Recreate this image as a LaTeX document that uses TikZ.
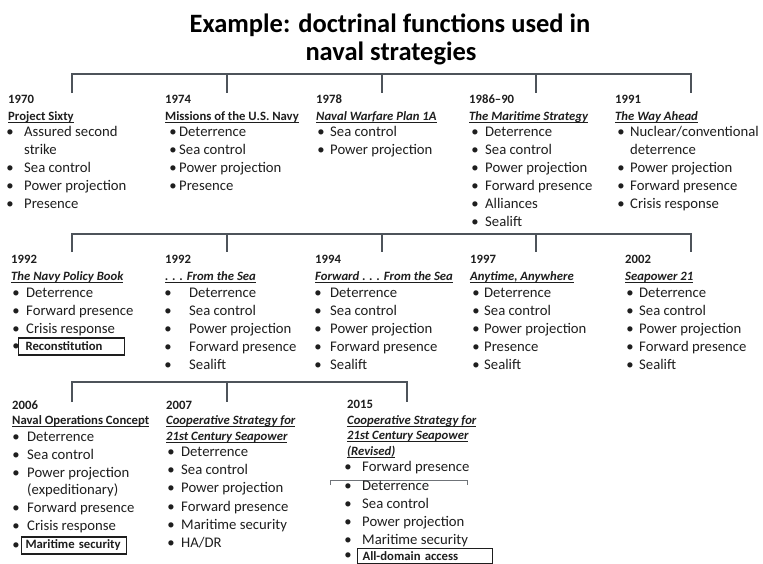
\documentclass[tikz,border=0pt]{standalone}
\usepackage{fontspec}
\setmainfont{Carlito}
\definecolor{ink}{HTML}{1E1E1E}
\definecolor{rulec}{HTML}{4D535A}
\definecolor{thin}{HTML}{6F7378}
\newcommand\ulx[1]{\setbox0\hbox{#1}\rlap{\rule[-2.6pt]{\wd0}{1.1pt}}\box0}
\newcommand\bi[5]{\node[bul] (#1b) at (#2,#4) {•}; \node[itm] (#1) at (#3,#4) {#5};}
\tikzset{
  titlef/.style={anchor=base, inner sep=0, font=\fontsize{26.5}{29}\selectfont\bfseries, text=black},
  yr/.style={anchor=base west, inner sep=0, font=\fontsize{12.7}{15}\selectfont\bfseries, text=ink},
  hd/.style={anchor=base west, inner sep=0, font=\fontsize{12.7}{15}\selectfont\bfseries, text=ink},
  hdi/.style={anchor=base west, inner sep=0, font=\fontsize{12.7}{15}\selectfont\bfseries\itshape, text=ink},
  bul/.style={anchor=base, inner sep=0, font=\fontsize{14.7}{18}\selectfont, text=ink},
  itm/.style={anchor=base west, inner sep=0, font=\fontsize{14.7}{18}\selectfont, text=ink},
  brk/.style={draw=rulec, line width=2pt},
  boxed/.style={draw=ink, line width=1.1pt, anchor=west, inner ysep=0pt, minimum height=17pt, align=left, font=\fontsize{12.7}{15}\selectfont\bfseries, text=ink}
}
\begin{document}
\begin{tikzpicture}[x=1pt,y=-1pt]
\useasboundingbox (0,0) rectangle (763,563);
\clip (0,0) rectangle (763,563);
\fill[white] (0,0) rectangle (763,563);
% title
\node[titlef] (title1) at (390,32) {Example: doctrinal functions used in};
\node[titlef] (title2) at (391,60) {naval strategies};
% ---------- bracket rows ----------
\foreach \i/\x in {1/72,2/227,3/382,4/536,5/691}{
  \coordinate (ka\i) at (\x,74); \coordinate (ta\i) at (\x,93);
  \coordinate (kb\i) at (\x,234); \coordinate (tb\i) at (\x,252);
}
\foreach \i/\x in {1/72,2/227,3/407}{
  \coordinate (kc\i) at (\x,382); \coordinate (tc\i) at (\x,402);
}
\draw[brk] (ta1) -- (ka1) -- (ka5) -- (ta5);
\draw[brk] (ka2) -- (ta2) (ka3) -- (ta3) (ka4) -- (ta4);
\draw[brk] (tb1) -- (kb1) -- (kb5) -- (tb5);
\draw[brk] (kb2) -- (tb2) (kb3) -- (tb3) (kb4) -- (tb4);
\draw[brk] (tc1) -- (kc1) -- (kc3) -- (tc3);
\draw[brk] (kc2) -- (tc2);
% ---------- row 1 ----------
\node[yr] (y11) at (8,103) {1970};
\node[hd] (h11) at (8,120) {\ulx{Project Sixty}};
\bi{a11}{10}{24}{136}{Assured second}
\node[itm] (a11c) at (24,154) {strike};
\bi{a12}{10}{24}{172}{Sea control}
\bi{a13}{10}{24}{190.5}{Power projection}
\bi{a14}{10}{24}{208}{Presence}

\node[yr] (y12) at (165,103) {1974};
\node[hd] (h12) at (165,120) {\ulx{Missions of the U.S. Navy}};
\bi{a21}{173}{179}{136}{Deterrence}
\bi{a22}{173}{179}{154}{Sea control}
\bi{a23}{173}{179}{172}{Power projection}
\bi{a24}{173}{179}{190.5}{Presence}

\node[yr] (y13) at (316,103) {1978};
\node[hdi] (h13) at (316,120) {\ulx{Naval Warfare Plan 1A}};
\bi{a31}{321}{330}{136}{Sea control}
\bi{a32}{321}{330}{154}{Power projection}

\node[yr] (y14) at (469,103) {1986–90};
\node[hdi] (h14) at (469,120) {\ulx{The Maritime Strategy}};
\bi{a41}{475}{485}{136}{Deterrence}
\bi{a42}{475}{485}{154}{Sea control}
\bi{a43}{475}{485}{172}{Power projection}
\bi{a44}{475}{485}{190.5}{Forward presence}
\bi{a45}{475}{485}{208}{Alliances}
\bi{a46}{475}{485}{226}{Sealift}

\node[yr] (y15) at (615,103) {1991};
\node[hdi] (h15) at (615,120) {\ulx{The Way Ahead}};
\bi{a51}{621}{630}{136}{Nuclear/conventional}
\node[itm] (a51c) at (630,154) {deterrence};
\bi{a52}{621}{630}{172}{Power projection}
\bi{a53}{621}{630}{190.5}{Forward presence}
\bi{a54}{621}{630}{208}{Crisis response}
% ---------- row 2 ----------
\node[yr] (y21) at (11,263) {1992};
\node[hdi] (h21) at (11,280) {\ulx{The Navy Policy Book}};
\bi{b11}{16}{26}{297}{Deterrence}
\bi{b12}{16}{26}{315}{Forward presence}
\bi{b13}{16}{26}{333}{Crisis response}
\node[bul] (b14b) at (16,350) {•};
\node[boxed, text width=92pt, inner xsep=7pt] (b14) at (18,346.5) {Reconstitution};

\node[yr] (y22) at (165,263) {1992};
\node[hdi] (h22) at (165,280) {\ulx{. . . From the Sea}};
\bi{b21}{168}{189}{297}{Deterrence}
\bi{b22}{168}{189}{315}{Sea control}
\bi{b23}{168}{189}{333}{Power projection}
\bi{b24}{168}{189}{351}{Forward presence}
\bi{b25}{168}{189}{369}{Sealift}

\node[yr] (y23) at (315,263) {1994};
\node[hdi] (h23) at (315,280) {\ulx{Forward . . . From the Sea}};
\bi{b31}{318}{330}{297}{Deterrence}
\bi{b32}{318}{330}{315}{Sea control}
\bi{b33}{318}{330}{333}{Power projection}
\bi{b34}{318}{330}{351}{Forward presence}
\bi{b35}{318}{330}{369}{Sealift}

\node[yr] (y24) at (470,263) {1997};
\node[hdi] (h24) at (470,280) {\ulx{Anytime, Anywhere}};
\bi{b41}{476}{484}{297}{Deterrence}
\bi{b42}{476}{484}{315}{Sea control}
\bi{b43}{476}{484}{333}{Power projection}
\bi{b44}{476}{484}{351}{Presence}
\bi{b45}{476}{484}{369}{Sealift}

\node[yr] (y25) at (625,263) {2002};
\node[hdi] (h25) at (625,280) {\ulx{Seapower 21}};
\bi{b51}{630}{639}{297}{Deterrence}
\bi{b52}{630}{639}{315}{Sea control}
\bi{b53}{630}{639}{333}{Power projection}
\bi{b54}{630}{639}{351}{Forward presence}
\bi{b55}{630}{639}{369}{Sealift}
% ---------- row 3 ----------
\node[yr] (y31) at (12,409) {2006};
\node[hd] (h31) at (12,424) {\ulx{Naval Operations Concept}};
\bi{c11}{16}{27}{441}{Deterrence}
\bi{c12}{16}{27}{459}{Sea control}
\bi{c13}{16}{27}{477}{Power projection}
\node[itm] (c13c) at (27,494) {(expeditionary)};
\bi{c14}{16}{27}{512}{Forward presence}
\bi{c15}{16}{27}{530}{Crisis response}
\node[bul] (c16b) at (16,549) {•};
\node[boxed, text width=97pt, inner xsep=4pt] (c16) at (21,545.5) {Maritime security};

\node[yr] (y32) at (166,409) {2007};
\node[hdi] (h32) at (166,424) {\ulx{Cooperative Strategy for}};
\node[hdi] (h32b) at (166,440) {\ulx{21st Century Seapower}};
\bi{c21}{171}{181}{456}{Deterrence}
\bi{c22}{171}{181}{474}{Sea control}
\bi{c23}{171}{181}{492}{Power projection}
\bi{c24}{171}{181}{511}{Forward presence}
\bi{c25}{171}{181}{529}{Maritime security}
\bi{c26}{171}{181}{547}{HA/DR}

\node[yr] (y33) at (347,408) {2015};
\node[hdi] (h33) at (347,424) {\ulx{Cooperative Strategy for}};
\node[hdi] (h33b) at (347,439) {\ulx{21st Century Seapower}};
\node[hdi] (h33c) at (347,455) {\ulx{(Revised)}};
\bi{c31}{348}{362}{471}{Forward presence}
\coordinate (g1) at (330,485); \coordinate (g2) at (330,480);
\coordinate (g3) at (467,480); \coordinate (g4) at (467,485);
\draw[draw=thin, line width=1pt] (g1) -- (g2) -- (g3) -- (g4);
\bi{c32}{348}{362}{490}{Deterrence}
\bi{c33}{348}{362}{508}{Sea control}
\bi{c34}{348}{362}{526}{Power projection}
\bi{c35}{348}{362}{544}{Maritime security}
\node[bul] (c36b) at (348,559.5) {•};
\node[boxed, text width=125pt, inner xsep=5pt, anchor=north west, minimum height=14.5pt] (c36) at (357,548) {All-domain access};
\end{tikzpicture}
\end{document}
